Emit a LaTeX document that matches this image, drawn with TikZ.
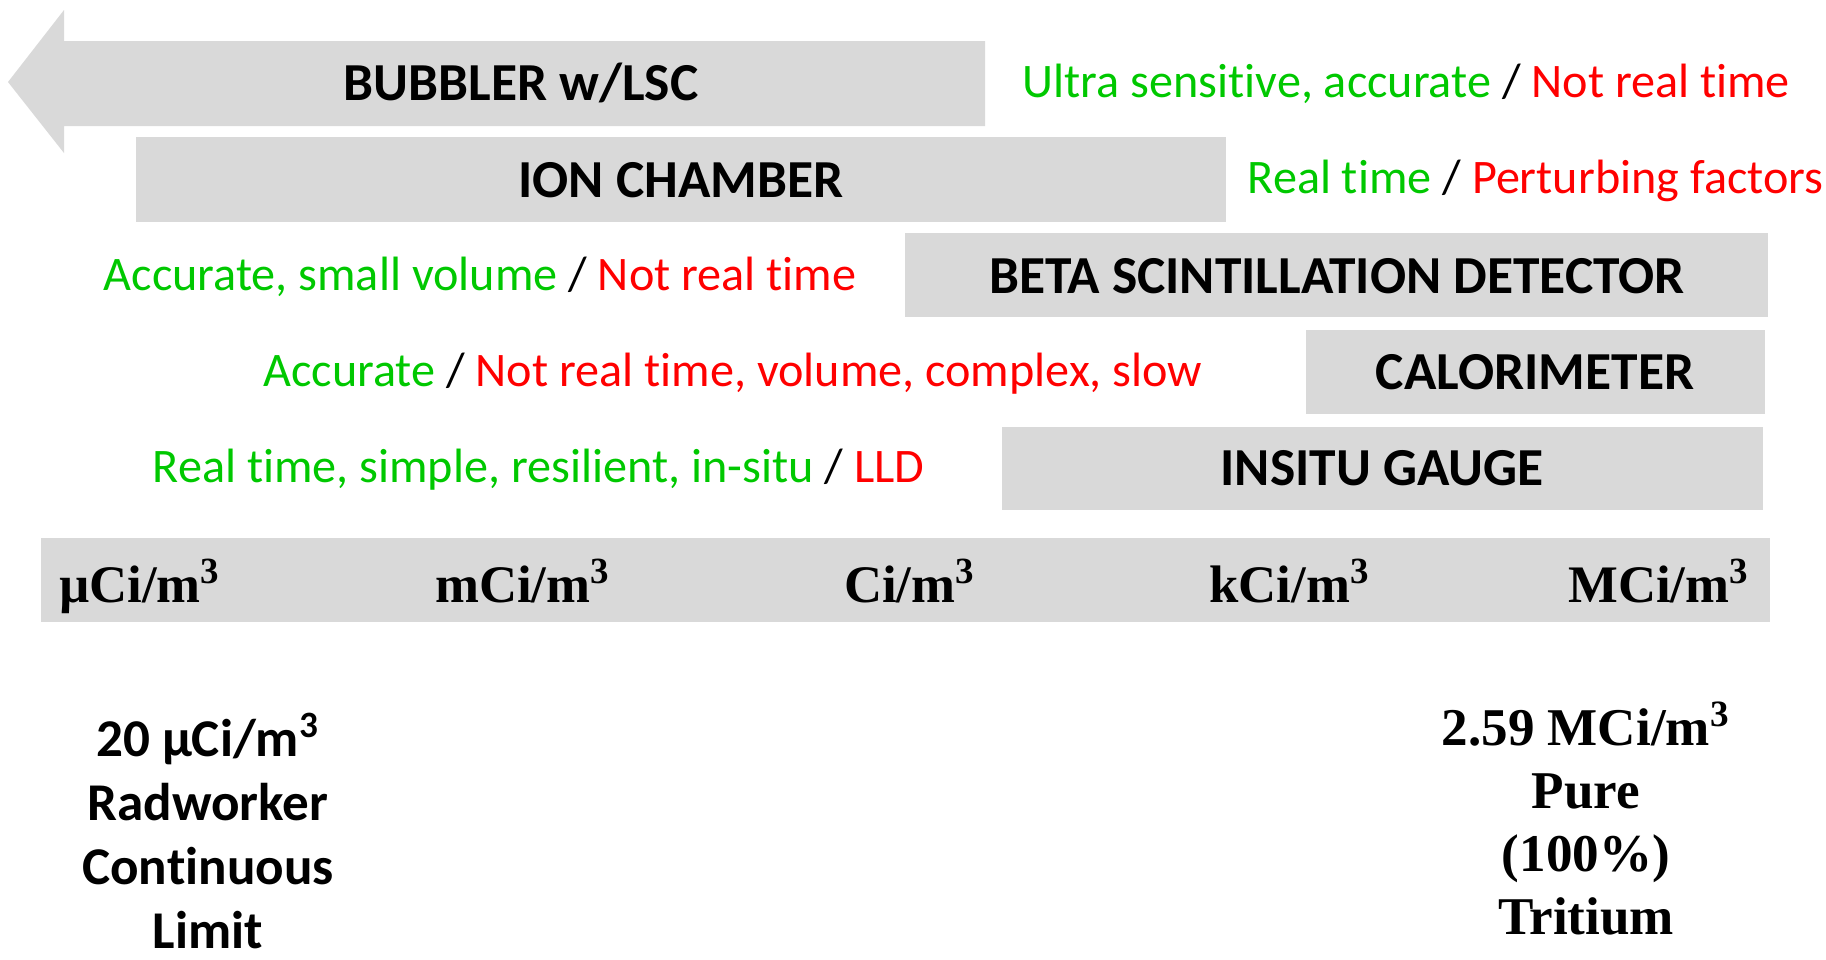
\documentclass[tikz,border=0pt]{standalone}
\usepackage{fontspec}
\setmainfont{Carlito}[RawFeature=-liga]
\newfontfamily\tnr{Liberation Serif}
\definecolor{boxgray}{HTML}{D9D9D9}
\definecolor{pro}{HTML}{00C800}
\definecolor{con}{HTML}{FF0000}
\tikzset{
  bar/.style={fill=boxgray},
  boxlabel/.style={anchor=base, inner sep=0pt, font=\fontsize{15.2}{18}\selectfont\bfseries},
  sidelabel/.style={inner sep=0pt, font=\fontsize{13.7}{16}\selectfont},
  unitlabel/.style={anchor=base, inner sep=0pt, font=\tnr\fontsize{15}{18}\selectfont\bfseries},
  notelabel/.style={anchor=base, inner sep=0pt, align=center, font=\fontsize{15.1}{18.2}\selectfont\bfseries},
  tnote/.style={anchor=base, inner sep=0pt, align=center, font=\tnr\fontsize{15.1}{17.9}\selectfont\bfseries}
}
\begin{document}
\begin{tikzpicture}[x=0.01cm,y=-0.01cm]
\useasboundingbox (0,0) rectangle (1826,959);
% bars
\fill[bar] (8,82) -- (64,10) -- (64,41) -- (985,41) -- (985,126) -- (64,126) -- (64,153) -- cycle;
\fill[bar] (136,137) rectangle (1226,222);
\fill[bar] (905,233) rectangle (1768,317);
\fill[bar] (1306,330) rectangle (1765,414);
\fill[bar] (1002,427) rectangle (1763,510);
\fill[bar] (41,538) rectangle (1770,622);
% box labels
\node[boxlabel] (bub) at (521,100) {BUBBLER w/LSC};
\node[boxlabel] (ion) at (681,197) {ION CHAMBER};
\node[boxlabel] (beta) at (1337,293) {BETA SCINTILLATION DETECTOR};
\node[boxlabel] (cal) at (1535,389) {CALORIMETER};
\node[boxlabel] (ins) at (1382,485) {INSITU GAUGE};
% side labels
\node[sidelabel, anchor=base west] (s1) at (1022,97) {\color{pro}Ultra sensitive, accurate \color{black}/ \color{con}Not real time};
\node[sidelabel, anchor=base west] (s2) at (1247,193) {\color{pro}Real time \color{black}/ \color{con}Perturbing factors};
\node[sidelabel, anchor=base east] (s3) at (857,290) {\color{pro}Accurate, small volume \color{black}/ \color{con}Not real time};
\node[sidelabel, anchor=base east] (s4) at (1203,386) {\color{pro}Accurate \color{black}/ \color{con}Not real time, volume, complex, slow};
\node[sidelabel, anchor=base east] (s5) at (925,482) {\color{pro}Real time, simple, resilient, in-situ \color{black}/ \color{con}LLD};
% units
\node[unitlabel] (u1) at (140,602) {µCi/m\textsuperscript{3}};
\node[unitlabel] (u2) at (523,602) {mCi/m\textsuperscript{3}};
\node[unitlabel] (u3) at (910,602) {Ci/m\textsuperscript{3}};
\node[unitlabel] (u4) at (1290,602) {kCi/m\textsuperscript{3}};
\node[unitlabel] (u5) at (1659,602) {MCi/m\textsuperscript{3}};
% notes (base anchor = last line)
\node[notelabel] (n1) at (208,948) {20 µCi/m\textsuperscript{3}\\Radworker\\Continuous\\Limit};
\node[tnote] (n2) at (1586,934) {2.59 MCi/m\textsuperscript{3}\\Pure\\(100\%)\\Tritium};
\end{tikzpicture}
\end{document}
